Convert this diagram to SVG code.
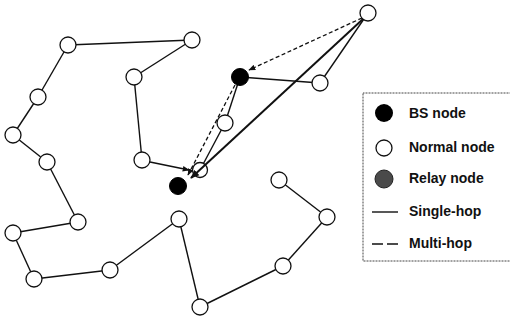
<svg xmlns="http://www.w3.org/2000/svg" width="510" height="320" viewBox="0 0 510 320">
<style>
.e{stroke:#111;stroke-width:1.4;fill:none}
.d{stroke:#111;stroke-width:1.3;fill:none;stroke-dasharray:4 2.5}
.n{fill:#fff;stroke:#111;stroke-width:1.3}
.b{fill:#000;stroke:#000;stroke-width:1}
.t{font-family:"Liberation Sans",Arial,sans-serif;font-size:14px;font-weight:bold;fill:#111}
</style>
<defs>
<marker id="ah" viewBox="0 0 10 10" refX="9" refY="5" markerWidth="7" markerHeight="7" markerUnits="userSpaceOnUse" orient="auto"><path d="M0,1 L10,5 L0,9 Z" fill="#111"/></marker>
<marker id="ah2" viewBox="0 0 10 10" refX="9" refY="5" markerWidth="9" markerHeight="9" markerUnits="userSpaceOnUse" orient="auto"><path d="M0,1 L10,5 L0,9 Z" fill="#111"/></marker>
</defs>
<rect width="510" height="320" fill="#fff"/>
<g id="connectors">
<line class="e" x1="68" y1="45" x2="192" y2="40"/>
<line class="e" x1="68" y1="45" x2="38" y2="97"/>
<line class="e" x1="38" y1="97" x2="13" y2="135"/>
<line class="e" x1="13" y1="135" x2="47" y2="162"/>
<line class="e" x1="47" y1="162" x2="78" y2="222"/>
<line class="e" x1="78" y1="222" x2="13" y2="233"/>
<line class="e" x1="13" y1="233" x2="34" y2="279"/>
<line class="e" x1="34" y1="279" x2="110" y2="270"/>
<line class="e" x1="110" y1="270" x2="179" y2="219"/>
<line class="e" x1="179" y1="219" x2="200" y2="307"/>
<line class="e" x1="200" y1="307" x2="283" y2="266"/>
<line class="e" x1="283" y1="266" x2="327" y2="217"/>
<line class="e" x1="327" y1="217" x2="279" y2="180"/>
<line class="e" x1="192" y1="40" x2="134" y2="77"/>
<line class="e" x1="134" y1="77" x2="142" y2="160"/>
<line class="e" x1="368" y1="13" x2="320" y2="83"/>
<line class="e" x1="240" y1="77" x2="320" y2="83"/>
<line class="e" x1="240" y1="77" x2="225" y2="123"/>
<line class="e" x1="225" y1="123" x2="200" y2="170"/>
</g>
<g id="nodes">
<circle id="n1" class="n" cx="68" cy="45" r="8"/>
<circle id="n2" class="n" cx="192" cy="40" r="8"/>
<circle id="n3" class="n" cx="38" cy="97" r="8"/>
<circle id="n4" class="n" cx="134" cy="77" r="8"/>
<circle id="n5" class="n" cx="13" cy="135" r="8"/>
<circle id="n6" class="n" cx="47" cy="162" r="8"/>
<circle id="n7" class="n" cx="142" cy="160" r="8"/>
<circle id="n8" class="n" cx="78" cy="222" r="8"/>
<circle id="n9" class="n" cx="13" cy="233" r="8"/>
<circle id="n10" class="n" cx="34" cy="279" r="8"/>
<circle id="n11" class="n" cx="110" cy="270" r="8"/>
<circle id="n12" class="n" cx="179" cy="219" r="8"/>
<circle id="n13" class="n" cx="200" cy="307" r="8"/>
<circle id="n14" class="n" cx="279" cy="180" r="8"/>
<circle id="n15" class="n" cx="327" cy="217" r="8"/>
<circle id="n16" class="n" cx="283" cy="266" r="8"/>
<circle id="n17" class="n" cx="368" cy="13" r="8"/>
<circle id="n18" class="n" cx="320" cy="83" r="8"/>
<circle id="n19" class="n" cx="225" cy="123" r="8"/>
<circle id="n20" class="n" cx="200" cy="170" r="7.5"/>
<circle id="bs1" class="b" cx="240" cy="77" r="8.5"/>
<circle id="bs2" class="b" cx="178" cy="186" r="8.5"/>
</g>
<g id="arrows">
<line class="d" x1="362" y1="18" x2="249" y2="70" marker-end="url(#ah)"/>
<line stroke="#111" stroke-width="2" x1="363" y1="19" x2="191" y2="178" marker-end="url(#ah2)"/>
<line class="d" x1="235" y1="85" x2="188" y2="175" marker-end="url(#ah)"/>
<line class="e" x1="150" y1="162" x2="189" y2="170" marker-end="url(#ah)"/>
</g>
<g id="legend">
<rect x="363" y="93" width="160" height="168" fill="none" stroke="#444" stroke-width="1" stroke-dasharray="1 0.5"/>
<circle cx="384" cy="113" r="9" fill="#000"/>
<text class="t" x="409" y="118">BS node</text>
<circle cx="384" cy="148" r="8" class="n"/>
<text class="t" x="409" y="152">Normal node</text>
<circle cx="384" cy="179" r="9" fill="#4a4a4a" stroke="#222" stroke-width="1"/>
<text class="t" x="409" y="183">Relay node</text>
<line x1="372" y1="212" x2="398" y2="212" stroke="#111" stroke-width="1.4"/>
<text class="t" x="409" y="216">Single-hop</text>
<line x1="372" y1="244" x2="398" y2="244" stroke="#111" stroke-width="1.4" stroke-dasharray="11 4"/>
<text class="t" x="409" y="248">Multi-hop</text>
</g>
</svg>
